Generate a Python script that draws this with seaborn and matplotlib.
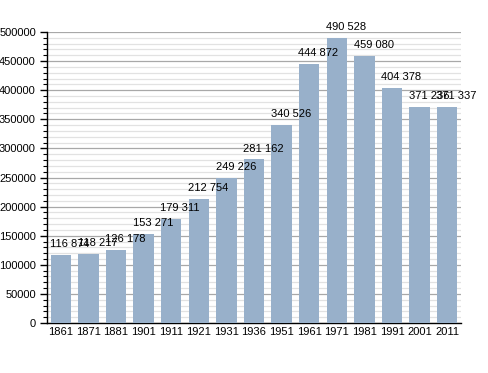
import matplotlib
matplotlib.use("Agg")
import matplotlib.pyplot as plt
import seaborn as sns
import pandas as pd
from matplotlib.ticker import MultipleLocator

years = ["1861", "1871", "1881", "1901", "1911", "1921", "1931", "1936",
         "1951", "1961", "1971", "1981", "1991", "2001", "2011"]
population = [116874, 118217, 126178, 153271, 179311, 212754, 249226, 281162,
              340526, 444872, 490528, 459080, 404378, 371236, 371337]
labels = ["116 874", "118 217", "126 178", "153 271", "179 311", "212 754",
          "249 226", "281 162", "340 526", "444 872", "490 528", "459 080",
          "404 378", "371 236", "371 337"]

df = pd.DataFrame({"year": years, "pop": population})

sns.set_style("white")
plt.rcParams["font.family"] = ["Liberation Sans", "DejaVu Sans"]
plt.rcParams["text.color"] = "black"
plt.rcParams["xtick.color"] = "black"
plt.rcParams["ytick.color"] = "black"

fig = plt.figure(figsize=(4.88, 3.73), dpi=100)
ax = fig.add_axes([47/488, 50/373, 414/488, 291/373])

sns.barplot(data=df, x="year", y="pop", color="#98b0ca", width=0.74,
            saturation=1, ax=ax, zorder=3, edgecolor="none")

ax.set_ylim(0, 500000)
ax.set_xlim(-0.5, len(years) - 0.5)
ax.yaxis.set_major_locator(MultipleLocator(50000))
ax.yaxis.set_minor_locator(MultipleLocator(10000))
ax.grid(which="major", axis="y", color="#a8a8a8", linewidth=0.9, zorder=0)
ax.grid(which="minor", axis="y", color="#e2e2e2", linewidth=0.9, zorder=0)
ax.set_axisbelow(True)

for s in ["top", "right"]:
    ax.spines[s].set_visible(False)
for s in ["left", "bottom"]:
    ax.spines[s].set_color("black")
    ax.spines[s].set_linewidth(1)

ax.tick_params(axis="y", which="major", length=5, width=1, color="black",
               labelsize=8, pad=3, left=True)
ax.tick_params(axis="y", which="minor", length=3, width=0.8, color="black", left=True)
ax.tick_params(axis="x", length=0, labelsize=8, pad=3)
ax.set_xlabel("")
ax.set_ylabel("")

for p, lab in zip(ax.patches, labels):
    ax.text(p.get_x() - 0.02, p.get_height() + 10000, lab, ha="left", va="bottom",
            fontsize=8, clip_on=False, zorder=5, color="black")

fig.savefig("out.png", dpi=100)
